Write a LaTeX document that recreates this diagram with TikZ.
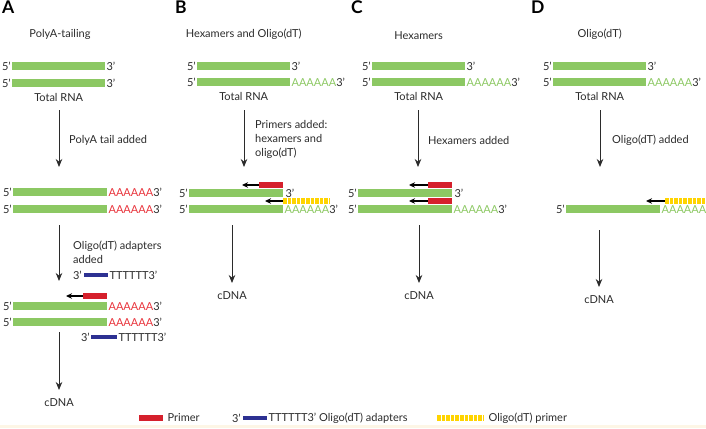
\documentclass[tikz,border=0pt]{standalone}
\usepackage{fontspec}
\setmainfont{Lato}
\usetikzlibrary{arrows.meta,positioning}
\definecolor{rnagreen}{HTML}{8CC863}
\definecolor{tailred}{HTML}{E8343C}
\definecolor{primerred}{HTML}{D5202C}
\definecolor{adaptblue}{HTML}{2D3192}
\definecolor{oligoyel}{HTML}{FFD400}
\definecolor{ink}{HTML}{2B2B2B}
\definecolor{footbeige}{HTML}{FDF6E6}
\tikzset{
  rna/.style={fill=rnagreen,minimum height=8pt,inner sep=0pt,anchor=west},
  primer/.style={fill=primerred,minimum height=5.5pt,minimum width=24pt,inner sep=0pt,anchor=west},
  adapter/.style={fill=adaptblue,minimum height=4.5pt,minimum width=24pt,inner sep=0pt,anchor=west},
  oligo/.style={minimum height=6pt,inner sep=0pt,anchor=west},
  yelbar/.style={draw=oligoyel,line width=6pt,dash pattern=on 3.6pt off 1pt},
  lbl/.style={font=\fontsize{11}{14}\selectfont,text=ink,inner sep=0pt},
  note/.style={lbl,anchor=west,align=left},
  panel/.style={font=\fontsize{17.5}{17.5}\selectfont\bfseries,text=black,inner sep=0pt,anchor=north west},
  flow/.style={-{Stealth[length=8pt,width=6.5pt]},draw=ink,line width=0.9pt},
  back/.style={-{Stealth[length=6pt,width=5.5pt]},draw=black,line width=1.3pt},
}
\newcommand{\tailA}[1]{{\color{#1}AAAAAA}3’}

\begin{document}
\begin{tikzpicture}[x=1pt,y=-1pt]
  \useasboundingbox (0,0) rectangle (706,428);
  \fill[footbeige] (0,424.5) rectangle (706,428);
  % panel letters
  \foreach \p/\x in {A/2,B/175,C/351,D/531}{
    \node[panel] (L\p) at (\x,1) {\p};
  }
  % panel A: polyA-tailing
  \node[rna,minimum width=93pt] (rA1) at (12,66) {};
  \node[rna,minimum width=93pt] (rA2) at (12,83) {};
  \foreach \r in {rA1,rA2}{
    \node[lbl,left=1pt of \r] {5’};
    \node[lbl,right=1pt of \r] {3’};
  }
  \node[lbl] (hA) at (60,34) {PolyA-tailing};
  \node[lbl,below=5.5pt of rA2] (tA) {Total RNA};
  \coordinate (aA1) at (59,110);
  \coordinate (bA1) at (59,167);
  \draw[flow] (aA1) -- (bA1);
  \node[note] (nA1) at (69,140) {PolyA tail added};
  \node[rna,minimum width=94pt] (rA3) at (13,192) {};
  \node[rna,minimum width=94pt] (rA4) at (13,209) {};
  \foreach \r in {rA3,rA4}{
    \node[lbl,left=1pt of \r] {5’};
    \node[lbl,right=1pt of \r] {\tailA{tailred}};
  }
  \coordinate (aA2) at (59,225);
  \coordinate (bA2) at (59,281);
  \draw[flow] (aA2) -- (bA2);
  \node[note,anchor=north west] (nA2) at (73,241) {Oligo(dT) adapters\\added};
  \node[adapter] (dA1) at (84,275) {};
  \node[lbl,left=2pt of dA1] {3’};
  \node[lbl,right=1pt of dA1] {TTTTTT3’};
  \node[primer] (pA) at (83,296) {};
  \coordinate (eA) at (66,296);
  \draw[back] (pA.west) -- (eA);
  \node[rna,minimum width=94pt] (rA5) at (13,306) {};
  \node[rna,minimum width=94pt] (rA6) at (13,322) {};
  \foreach \r in {rA5,rA6}{
    \node[lbl,left=1pt of \r] {5’};
    \node[lbl,right=1pt of \r] {\tailA{tailred}};
  }
  \node[adapter,minimum width=26pt] (dA2) at (91,337) {};
  \node[lbl,left=1pt of dA2] {3’};
  \node[lbl,right=1pt of dA2] {TTTTTT3’};
  \coordinate (aA3) at (59,332);
  \coordinate (bA3) at (59,390);
  \draw[flow] (aA3) -- (bA3);
  \node[lbl] (cA) at (59,403) {cDNA};
  % panels B, C, D: total RNA on top
  \foreach \p/\x/\t in {B/197/{Hexamers and Oligo(dT)},C/372/{Hexamers},D/553/{Oligo(dT)}}{
    \node[rna,minimum width=93pt] (r\p1) at (\x,66) {};
    \node[rna,minimum width=93pt] (r\p2) at (\x,82) {};
    \node[lbl,left=1pt of r\p1] {5’};
    \node[lbl,right=1pt of r\p1] {3’};
    \node[lbl,left=1pt of r\p2] {5’};
    \node[lbl,right=1pt of r\p2] {\tailA{rnagreen}};
    \node[lbl,above=22pt of r\p1] (h\p) {\t};
    \node[lbl,below=6pt of r\p2] (t\p) {Total RNA};
  }
  % panel B
  \coordinate (aB1) at (244,110);
  \coordinate (bB1) at (244,167);
  \draw[flow] (aB1) -- (bB1);
  \node[note,anchor=north west] (nB1) at (255,120) {Primers added:\\hexamers and\\oligo(dT)};
  \node[primer] (pB) at (259,185) {};
  \coordinate (eB1) at (242,185);
  \draw[back] (pB.west) -- (eB1);
  \node[rna,minimum width=94pt] (rB3) at (189,193) {};
  \node[lbl,left=1pt of rB3] {5’};
  \node[lbl,right=2pt of rB3] {3’};
  \node[oligo,minimum width=46pt] (oB) at (283,201) {};
  \draw[yelbar] (oB.west) -- (oB.east);
  \coordinate (eB2) at (265,201);
  \draw[back] (oB.west) -- (eB2);
  \node[rna,minimum width=94pt] (rB4) at (189,209) {};
  \node[lbl,left=1pt of rB4] {5’};
  \node[lbl,right=1pt of rB4] {\tailA{rnagreen}};
  \coordinate (aB2) at (232,225);
  \coordinate (bB2) at (232,283);
  \draw[flow] (aB2) -- (bB2);
  \node[lbl] (cB) at (232,296) {cDNA};
  % panel C
  \coordinate (aC1) at (418,110);
  \coordinate (bC1) at (418,167);
  \draw[flow] (aC1) -- (bC1);
  \node[note] (nC1) at (428,140) {Hexamers added};
  \node[primer] (pC1) at (428,185) {};
  \node[primer] (pC2) at (428,201) {};
  \coordinate (eC1) at (409,185);
  \coordinate (eC2) at (409,201);
  \draw[back] (pC1.west) -- (eC1);
  \draw[back] (pC2.west) -- (eC2);
  \node[rna,minimum width=94pt] (rC3) at (358,193) {};
  \node[rna,minimum width=94pt] (rC4) at (358,209) {};
  \node[lbl,left=1pt of rC3] {5’};
  \node[lbl,right=2pt of rC3] {3’};
  \node[lbl,left=1pt of rC4] {5’};
  \node[lbl,right=1pt of rC4] {\tailA{rnagreen}};
  \coordinate (aC2) at (419,225);
  \coordinate (bC2) at (419,283);
  \draw[flow] (aC2) -- (bC2);
  \node[lbl] (cC) at (419,296) {cDNA};
  % panel D
  \coordinate (aD1) at (600,110);
  \coordinate (bD1) at (600,167);
  \draw[flow] (aD1) -- (bD1);
  \node[note] (nD1) at (612,140) {Oligo(dT) added};
  \node[oligo,minimum width=46pt] (oD) at (665,201) {};
  \draw[yelbar] (oD.west) -- (oD.east);
  \coordinate (eD) at (646,201);
  \draw[back] (oD.west) -- (eD);
  \node[rna,minimum width=94pt] (rD3) at (566,209) {};
  \node[lbl,left=1pt of rD3] {5’};
  \node[lbl,right=1pt of rD3] {\tailA{rnagreen}};
  \coordinate (aD2) at (599,230);
  \coordinate (bD2) at (599,287);
  \draw[flow] (aD2) -- (bD2);
  \node[lbl] (cD) at (599,300) {cDNA};
  % legend
  \node[primer] (kP) at (139,418) {};
  \node[note,right=4pt of kP] {Primer};
  \node[adapter] (kA) at (243,418) {};
  \node[lbl,left=2pt of kA] {3’};
  \node[note,right=1pt of kA] {TTTTTT3’ Oligo(dT) adapters};
  \node[oligo,minimum width=47pt] (kO) at (437,418) {};
  \draw[yelbar] (kO.west) -- (kO.east);
  \node[note,right=4pt of kO] {Oligo(dT) primer};
\end{tikzpicture}
\end{document}
